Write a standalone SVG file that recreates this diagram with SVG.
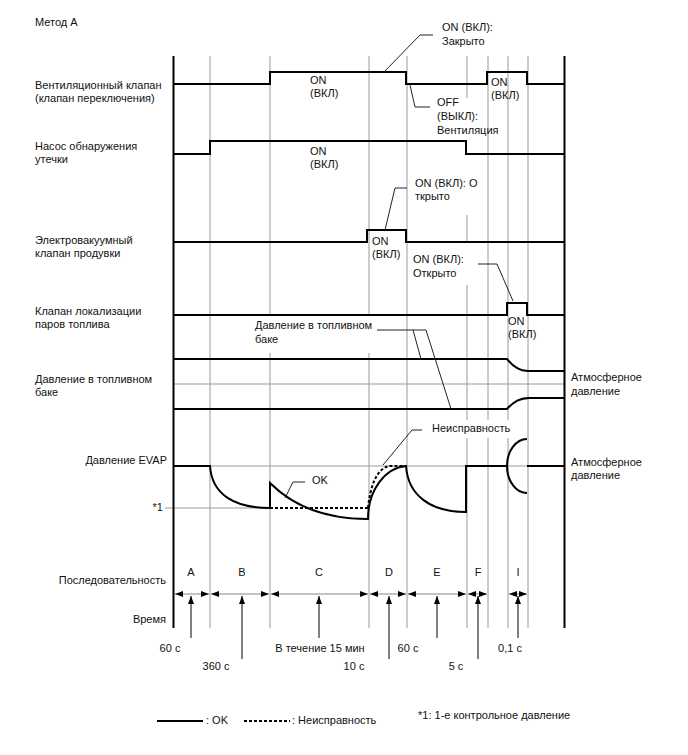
<svg xmlns="http://www.w3.org/2000/svg" width="688" height="755" viewBox="0 0 688 755">
<defs>
<style>
text{font-family:"Liberation Sans",Arial,sans-serif;font-size:11px;fill:#111}
.g{stroke:#9a9a9a;stroke-width:1;fill:none}
.k{stroke:#000;stroke-width:2;fill:none}
.d{stroke:#000;stroke-width:2;fill:none;stroke-dasharray:3 2}
.l{stroke:#222;stroke-width:1;fill:none}
.sa{stroke:#888;stroke-width:1;fill:none;marker-start:url(#al);marker-end:url(#ar)}
.ua{stroke:#000;stroke-width:1;fill:none;marker-end:url(#au)}
.e{text-anchor:end}
.m{text-anchor:middle}
</style>
<marker id="ar" viewBox="0 0 8 6" refX="8" refY="3" markerWidth="8" markerHeight="6" markerUnits="userSpaceOnUse" orient="auto"><path d="M0,0 L8,3 L0,6 z" fill="#000"/></marker>
<marker id="al" viewBox="0 0 8 6" refX="0" refY="3" markerWidth="8" markerHeight="6" markerUnits="userSpaceOnUse" orient="auto"><path d="M8,0 L0,3 L8,6 z" fill="#000"/></marker>
<marker id="au" viewBox="0 0 8 6" refX="8" refY="3" markerWidth="9" markerHeight="6" markerUnits="userSpaceOnUse" orient="auto"><path d="M0,0 L8,3 L0,6 z" fill="#000"/></marker>
</defs>
<rect width="688" height="755" fill="#fff"/>
<text x="35" y="26">Метод A</text>

<g id="grid">
<path class="g" d="M210,56V628 M270,56V315 M270,353V628 M369,56V315 M369,353V628 M407,56V628 M467,56V98 M467,215V242 M467,285V420 M467,438V628 M488,56V420 M488,438V628 M508,56V420 M508,438V628 M528,56V628"/>
<path class="g" d="M173,384H564 M173,466H564 M165,508H270"/>
<path class="k" d="M173.5,56V628 M564.5,56V628"/>
</g>

<g id="vent-valve">
<text x="35" y="89">Вентиляционный клапан</text>
<text x="35" y="102">(клапан переключения)</text>
<path class="k" d="M173,84H270V72H406V84H487V72H527V84H564"/>
<text x="310" y="84">ON</text><text x="310" y="97">(ВКЛ)</text>
<text x="491" y="86">ON</text><text x="491" y="99">(ВКЛ)</text>
<path class="l" d="M384,72L420,35H433"/>
<text x="442" y="31">ON (ВКЛ):</text><text x="442" y="45">Закрыто</text>
<path class="l" d="M410,85L415,107H430"/>
<text x="437" y="106">OFF</text><text x="437" y="120">(ВЫКЛ):</text><text x="437" y="134">Вентиляция</text>
</g>

<g id="leak-pump">
<text x="35" y="150">Насос обнаружения</text>
<text x="35" y="163">утечки</text>
<path class="k" d="M173,154H210V141H466V154H564"/>
<text x="310" y="155">ON</text><text x="310" y="168">(ВКЛ)</text>
</g>

<g id="purge-valve">
<text x="35" y="244">Электровакуумный</text>
<text x="35" y="257">клапан продувки</text>
<path class="k" d="M173,242H367V230H406V242H564"/>
<text x="372" y="245">ON</text><text x="372" y="258">(ВКЛ)</text>
<path class="l" d="M385,230L395,188H407"/>
<text x="415" y="187">ON (ВКЛ): О</text><text x="415" y="200">ткрыто</text>
</g>

<g id="vapor-valve">
<text x="35" y="315">Клапан локализации</text>
<text x="35" y="328">паров топлива</text>
<path class="k" d="M173,315H507V303H527V315H564"/>
<text x="508" y="325">ON</text><text x="508" y="338">(ВКЛ)</text>
<path class="l" d="M513,301L497,264H478"/>
<text x="413" y="263">ON (ВКЛ):</text><text x="413" y="277">Открыто</text>
</g>

<g id="tank-pressure">
<text x="35" y="383">Давление в топливном</text>
<text x="35" y="396">баке</text>
<path class="k" d="M173,359H507C513,366 519,371 529,371H564"/>
<path class="k" d="M173,409H507C513,402 519,398 529,398H564"/>
<text x="255" y="329">Давление в топливном</text><text x="255" y="343">баке</text>
<path class="l" d="M377,330H426 M413,330L421,359 M426,330L451,409"/>
<text x="571" y="381">Атмосферное</text><text x="571" y="395">давление</text>
</g>

<g id="evap-pressure">
<text class="e" x="167" y="464">Давление EVAP</text>
<text class="e" x="163" y="511">*1</text>
<path class="k" d="M173,466H210C212,495 235,508 270,508 M270,508V483C295,508 330,519 368,519C368,490 385,468 406,466C408,495 430,512 466,512V466H507 M527,439A20,27 0 0 0 507,466A20,27 0 0 0 527,493 M527,466H564"/>
<path class="d" d="M270,508H368 M368,508C370,488 376,468 390,466H406"/>
<path class="l" d="M285,498L293,482H305"/>
<text x="312" y="484">OK</text>
<path class="l" d="M383,465L412,430H422"/>
<text x="432" y="432">Неисправность</text>
<text x="571" y="466">Атмосферное</text><text x="571" y="479">давление</text>
</g>

<g id="sequence">
<text class="e" x="166" y="584">Последовательность</text>
<text class="e" x="166" y="623">Время</text>
<text class="m" x="191" y="576">A</text>
<text class="m" x="242" y="576">B</text>
<text class="m" x="319" y="576">C</text>
<text class="m" x="389" y="576">D</text>
<text class="m" x="437" y="576">E</text>
<text class="m" x="478" y="576">F</text>
<text class="m" x="518" y="576">I</text>
</g>

<g id="connectors">
<path class="sa" d="M175,594H209"/>
<path class="sa" d="M211,594H269"/>
<path class="sa" d="M271,594H368"/>
<path class="sa" d="M370,594H406"/>
<path class="sa" d="M408,594H466"/>
<path class="sa" d="M468,594H487"/>
<path class="sa" d="M509,594H527"/>
<path class="ua" d="M191,638V596"/>
<path class="ua" d="M242,659V596"/>
<path class="ua" d="M319,638V596"/>
<path class="ua" d="M389,659V596"/>
<path class="ua" d="M437,638V596"/>
<path class="ua" d="M478,659V596"/>
<path class="ua" d="M518,638V596"/>
</g>

<g id="times">
<text class="m" x="170" y="652">60 с</text>
<text class="m" x="216" y="670">360 с</text>
<text class="m" x="320" y="652">В течение 15 мин</text>
<text class="m" x="354" y="670">10 с</text>
<text class="m" x="408" y="652">60 с</text>
<text class="m" x="456" y="670">5 с</text>
<text class="m" x="510" y="652">0,1 с</text>
</g>

<g id="legend">
<path class="k" d="M157,721H203"/>
<text x="206" y="724">: OK</text>
<path class="d" d="M244,721H290"/>
<text x="292" y="724">: Неисправность</text>
<text x="418" y="719">*1: 1-е контрольное давление</text>
</g>
</svg>
